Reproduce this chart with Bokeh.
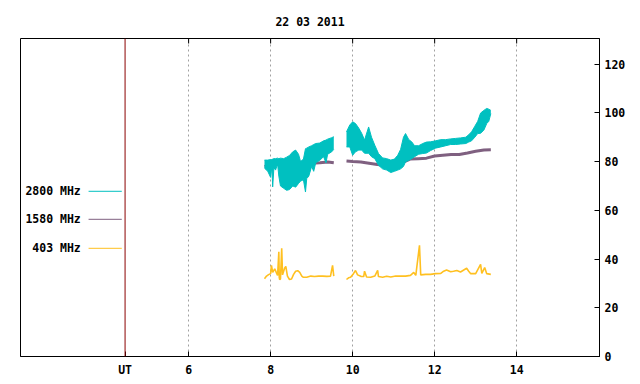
from bokeh.plotting import figure
from bokeh.models import FixedTicker, Span, Range1d, ColumnDataSource
from bokeh.core.properties import value
from bokeh.embed import file_html
from bokeh.resources import INLINE

# ---------------- data (hours UT, sfu) ----------------
title_text = "22 03 2011"
series_names = ["2800 MHz", "1580 MHz", "403 MHz"]
series_colors = ["#00c0c0", "#7f6080", "#ffc020"]

x_ticks = [6, 8, 10, 12, 14]
ut_pos = 4.45
y_ticks = [0, 20, 40, 60, 80, 100, 120]
y_max = 130.5

# 2800 MHz (noisy band: low / high envelope)
c_t1 = [7.85, 7.93, 8.00, 8.03, 8.05, 8.08, 8.12, 8.17, 8.20, 8.24, 8.32, 8.39, 8.46, 8.54, 8.61,
        8.68, 8.73, 8.80, 8.85, 8.88, 8.93, 9.00, 9.05, 9.10, 9.20, 9.29, 9.35, 9.39, 9.49, 9.54]
c_lo1 = [77.3, 76.0, 73.5, 78.0, 69.6, 77.5, 76.5, 79.0, 74.0, 70.0, 69.0, 68.2, 68.5, 70.0, 69.5,
         71.0, 72.0, 72.5, 67.5, 73.0, 74.0, 78.0, 76.0, 79.5, 80.5, 82.0, 79.5, 83.0, 84.0, 85.0]
c_hi1 = [80.6, 80.6, 80.8, 80.8, 81.0, 81.2, 81.2, 81.4, 81.2, 81.4, 81.2, 81.8, 82.5, 84.0, 84.7,
         83.0, 80.0, 81.0, 85.3, 85.5, 86.0, 86.5, 87.0, 87.4, 87.6, 88.5, 88.8, 89.2, 89.8, 90.2]
c_t2 = [9.85, 9.93, 10.00, 10.07, 10.15, 10.22, 10.29, 10.39, 10.46, 10.54, 10.63, 10.73, 10.83,
        10.93, 11.02, 11.10, 11.17, 11.24, 11.29, 11.37, 11.44, 11.51, 11.61, 11.71, 11.80,
        11.90, 12.02, 12.15, 12.27, 12.39, 12.51, 12.63, 12.76, 12.83, 12.90, 12.98, 13.05,
        13.12, 13.20, 13.27, 13.32, 13.37]
c_lo2 = [86.0, 86.0, 82.6, 84.0, 84.7, 84.7, 83.4, 83.4, 82.0, 81.2, 78.5, 77.0, 76.5,
         75.5, 76.0, 76.5, 77.0, 78.0, 79.9, 80.5, 81.2, 82.0, 83.0, 83.3, 83.5,
         84.5, 85.5, 86.0, 86.5, 87.0, 87.0, 87.2, 87.4, 88.0, 88.5, 90.0, 91.5,
         91.6, 92.9, 95.6, 96.5, 99.7]
c_hi2 = [92.2, 95.0, 96.3, 95.6, 93.7, 91.6, 88.8, 94.2, 90.0, 86.7, 83.3, 81.5, 81.2,
         80.6, 81.0, 82.6, 85.0, 90.0, 91.5, 89.0, 88.1, 86.5, 86.5, 87.4, 88.0,
         88.1, 88.5, 89.0, 89.0, 89.3, 89.5, 89.7, 90.0, 91.0, 92.2, 94.5, 96.5,
         99.9, 101.0, 101.8, 101.5, 101.0]

# 1580 MHz
m_t1 = [7.85, 8.00, 8.20, 8.40, 8.60, 8.80, 9.00, 9.20, 9.40, 9.54]
m_v1 = [78.0, 78.5, 79.0, 79.2, 79.5, 79.5, 79.3, 79.5, 79.8, 79.5]
m_t2 = [9.85, 10.00, 10.20, 10.40, 10.60, 10.80, 11.00, 11.20, 11.40, 11.60, 11.80, 12.00,
        12.20, 12.40, 12.60, 12.80, 13.00, 13.20, 13.37]
m_v2 = [80.2, 80.0, 79.8, 79.3, 78.8, 78.5, 78.5, 79.5, 81.0, 81.2, 81.4, 82.3,
        82.6, 82.9, 82.9, 83.5, 84.2, 84.7, 84.8]

# 403 MHz
y_t1 = [7.85, 7.90, 7.95, 8.00, 8.02, 8.05, 8.10, 8.15, 8.17, 8.20, 8.21, 8.22, 8.24, 8.27,
        8.29, 8.34, 8.37, 8.41, 8.46, 8.51, 8.56, 8.61, 8.66, 8.71, 8.76, 8.80, 8.88, 8.98,
        9.07, 9.17, 9.27, 9.37, 9.46, 9.51, 9.54]
y_v1 = [31.9, 33.0, 33.6, 34.0, 37.4, 34.5, 36.0, 34.0, 33.3, 43.0, 32.5, 31.6, 31.8, 44.4,
        33.5, 36.2, 37.0, 33.0, 31.6, 31.8, 33.7, 35.0, 35.2, 34.5, 33.0, 32.5, 32.5, 33.0,
        32.8, 33.0, 33.0, 32.9, 33.0, 37.4, 33.0]
y_t2 = [9.85, 9.90, 9.95, 10.02, 10.07, 10.12, 10.20, 10.27, 10.29, 10.34, 10.44, 10.54, 10.61,
        10.63, 10.73, 10.83, 10.93, 11.05, 11.17, 11.29, 11.41, 11.49, 11.54, 11.63, 11.66,
        11.78, 11.90, 12.02, 12.15, 12.22, 12.29, 12.39, 12.46, 12.54, 12.63, 12.71, 12.78,
        12.83, 12.88, 13.00, 13.12, 13.15, 13.22, 13.27, 13.37]
y_v2 = [31.6, 32.3, 32.5, 34.0, 35.3, 33.5, 32.9, 32.8, 35.0, 32.6, 32.5, 33.0, 35.3,
        32.8, 32.5, 32.9, 32.6, 33.0, 33.0, 33.0, 33.3, 34.5, 33.3, 45.6, 33.5,
        33.7, 33.7, 34.0, 34.1, 35.0, 35.5, 34.8, 35.0, 35.3, 34.7, 35.5, 36.2,
        35.0, 34.0, 34.0, 37.8, 34.1, 36.5, 34.0, 33.7]

# ---------------- figure ----------------
FONT = "DejaVu Sans Mono"
FSIZE = "11.5px"

p = figure(width=632, height=380, output_backend="svg", toolbar_location=None,
           x_range=Range1d(1.9, 16.02), y_range=Range1d(0, y_max),
           y_axis_location="right", title=title_text,
           min_border_left=20, min_border_right=33, min_border_top=38, min_border_bottom=24)
p.background_fill_color = "white"
p.border_fill_color = "white"
p.outline_line_color = "black"
p.outline_line_alpha = 1.0
p.outline_line_width = 1

p.title.align = "center"
p.title.text_font = FONT
p.title.text_font_size = FSIZE
p.title.text_font_style = "bold"
p.title.text_color = "black"
p.title.standoff = 20

# x axis
xa = p.xaxis[0]
xa.ticker = FixedTicker(ticks=[ut_pos] + x_ticks)
xa.major_label_overrides = {ut_pos: "UT"}
xa.major_tick_in = 5
xa.major_tick_out = 0
xa.minor_tick_in = 0
xa.minor_tick_out = 0
xa.major_label_standoff = 6
xa.major_label_text_font = FONT
xa.major_label_text_font_size = FSIZE
xa.major_label_text_font_style = "bold"
xa.major_label_text_color = "black"
xa.axis_line_color = "black"

# y axis (right)
ya = p.yaxis[0]
ya.ticker = FixedTicker(ticks=y_ticks)
ya.major_tick_in = 5
ya.major_tick_out = 0
ya.minor_tick_in = 0
ya.minor_tick_out = 0
ya.major_label_standoff = 5
ya.major_label_text_font = FONT
ya.major_label_text_font_size = FSIZE
ya.major_label_text_font_style = "bold"
ya.major_label_text_color = "black"
ya.axis_line_color = "black"

# grid
p.ygrid.visible = False
p.xgrid.ticker = FixedTicker(ticks=x_ticks)
p.xgrid.grid_line_color = "#a0a0a0"
p.xgrid.grid_line_dash = "2 3"
p.xgrid.grid_line_width = 1

# mirrored tick marks on the top border
tick_len = 2.05
p.segment(x0=x_ticks, y0=[y_max] * len(x_ticks), x1=x_ticks,
          y1=[y_max - tick_len] * len(x_ticks), line_color="black", line_width=1)

p.add_layout(Span(location=ut_pos, dimension="height", line_color="#8b0000", line_width=1))

# series (1580 first, 2800 drawn over it)
cyan, purple, yellow = series_colors
for t, v in [(m_t1, m_v1), (m_t2, m_v2)]:
    p.line(x=t, y=v, line_color=purple, line_width=3)
for t, lo, hi in [(c_t1, c_lo1, c_hi1), (c_t2, c_lo2, c_hi2)]:
    p.varea(x=t, y1=lo, y2=hi, fill_color=cyan)
    p.line(x=t, y=lo, line_color=cyan, line_width=1)
    p.line(x=t, y=hi, line_color=cyan, line_width=1)
for t, v in [(y_t1, y_v1), (y_t2, y_v2)]:
    p.line(x=t, y=v, line_color=yellow, line_width=1.6)

# legend (gnuplot style: text then sample line)
leg_y = [67.8, 56.3, 44.4]
leg_src = ColumnDataSource(dict(name=series_names, y=leg_y, color=series_colors,
                                tx=[3.37] * 3, x0=[3.56] * 3, x1=[4.37] * 3))
p.text(x="tx", y="y", text="name", source=leg_src, text_align="right",
       text_baseline="middle", text_font=value(FONT), text_font_size=FSIZE,
       text_font_style="bold", text_color="black")
p.segment(x0="x0", y0="y", x1="x1", y1="y", source=leg_src, line_color="color", line_width=1)

open("out.html", "w").write(file_html(p, INLINE))
